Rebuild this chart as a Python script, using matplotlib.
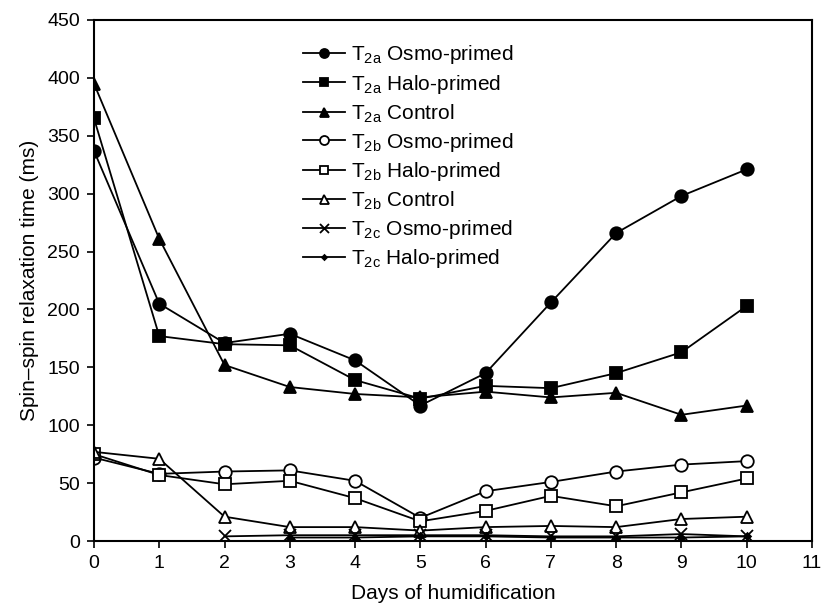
import matplotlib.pyplot as plt
import numpy as np

plt.rcParams['font.family'] = ['Liberation Sans', 'DejaVu Sans']

days = list(range(11))

# Spin-spin relaxation times (ms), one list per component / treatment
t2a_osmo = [337, 205, 171, 179, 156, 117, 145, 206, 266, 298, 321]
t2a_halo = [365, 177, 170, 169, 139, 123, 134, 132, 145, 163, 203]
t2a_control = [395, 261, 152, 133, 127, 124, 129, 124, 128, 109, 117]
t2b_osmo = [72, 58, 60, 61, 52, 20, 43, 51, 60, 66, 69]
t2b_halo = [75, 57, 49, 52, 37, 17, 26, 39, 30, 42, 54]
t2b_control = [77, 71, 21, 12, 12, 9, 12, 13, 12, 19, 21]
t2c_osmo = [np.nan, np.nan, 4, 5, 5, 5, 5, 4, 4, 6, 4]
t2c_halo = [np.nan, np.nan, np.nan, 3, 3, 4, 4, 3, 3, 3, 4]

series = [
    (t2a_osmo, 'o', 'black', r'T$_{\mathregular{2a}}$ Osmo-primed'),
    (t2a_halo, 's', 'black', r'T$_{\mathregular{2a}}$ Halo-primed'),
    (t2a_control, '^', 'black', r'T$_{\mathregular{2a}}$ Control'),
    (t2b_osmo, 'o', 'white', r'T$_{\mathregular{2b}}$ Osmo-primed'),
    (t2b_halo, 's', 'white', r'T$_{\mathregular{2b}}$ Halo-primed'),
    (t2b_control, '^', 'white', r'T$_{\mathregular{2b}}$ Control'),
    (t2c_osmo, 'x', 'black', r'T$_{\mathregular{2c}}$ Osmo-primed'),
    (t2c_halo, 'D', 'black', r'T$_{\mathregular{2c}}$ Halo-primed'),
]

fig = plt.figure(figsize=(8.23, 6.04), dpi=100)
ax = fig.add_axes([0.1142, 0.1043, 0.8724, 0.8626])

sizes = {'o': 9, 's': 8.5, '^': 9, 'x': 9, 'D': 3.5}
for vals, marker, face, label in series:
    ax.plot(days, vals, color='black', linewidth=1.3, marker=marker,
            markersize=sizes[marker], markerfacecolor=face,
            markeredgecolor='black', markeredgewidth=1.3, label=label)

ax.set_xlim(0, 11)
ax.set_ylim(0, 450)
ax.set_xticks(range(0, 12))
ax.set_yticks(range(0, 451, 50))
ax.tick_params(direction='out', length=5, width=1.2, labelsize=14,
               colors='black', pad=5)
for sp in ax.spines.values():
    sp.set_linewidth(1.5)

ax.set_xlabel('Days of humidification', fontsize=15, labelpad=9)
ax.set_ylabel('Spin\u2013spin relaxation time (ms)', fontsize=15, labelpad=6)

ax.legend(loc='upper left', bbox_to_anchor=(0.291, 0.955), frameon=False,
          fontsize=15, markerscale=0.72, handlelength=2.0,
          handletextpad=0.3, labelspacing=0.3, borderpad=0,
          borderaxespad=0)

fig.savefig('out.png', dpi=100)
